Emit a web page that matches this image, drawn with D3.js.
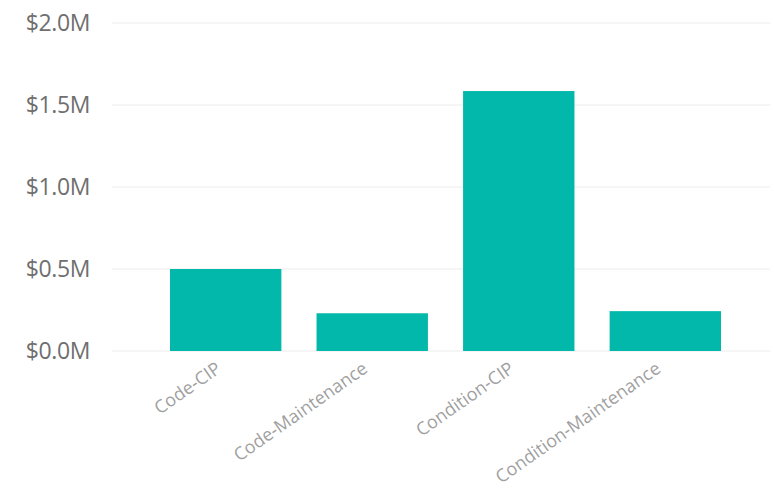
<!DOCTYPE html>
<head>
  <meta charset="utf-8" />
  <script src="https://d3js.org/d3.v7.min.js"></script>
  <style>
    body {
      margin: 0;
      background: #fff;
    }
    .ylab {
      font-family: "Open Sans", sans-serif;
      font-size: 23px;
      letter-spacing: -0.4px;
      fill: #6f6f6f;
    }
    .xlab {
      font-family: "Open Sans", sans-serif;
      font-size: 18px;
      fill: #a0a0a0;
    }
  </style>
</head>

<body>
  <script>
    var width = 774,
      height = 496;

    // donnees
    var categories = ["Code-CIP", "Code-Maintenance", "Condition-CIP", "Condition-Maintenance"];
    var values = [500000, 230000, 1585000, 243000];
    var yTicks = [0, 500000, 1000000, 1500000, 2000000];

    var svg = d3
      .select("body")
      .append("svg")
      .attr("width", width)
      .attr("height", height);

    var x = d3
      .scaleBand()
      .domain(categories)
      .range([170, 721])
      .paddingInner(0.24)
      .paddingOuter(0);

    var y = d3.scaleLinear().domain([0, 2000000]).range([351, 23]);

    // lignes de grille
    svg
      .selectAll("line.grid")
      .data(yTicks)
      .join("line")
      .attr("class", "grid")
      .attr("x1", 112)
      .attr("x2", 770)
      .attr("y1", (d) => y(d))
      .attr("y2", (d) => y(d))
      .attr("stroke", "#ececec")
      .attr("stroke-width", 1);

    // etiquettes axe y
    svg
      .selectAll("text.ylab")
      .data(yTicks)
      .join("text")
      .attr("class", "ylab")
      .attr("x", 90)
      .attr("y", (d) => y(d))
      .attr("dy", "0.35em")
      .attr("text-anchor", "end")
      .text((d) => "$" + (d / 1000000).toFixed(1) + "M");

    // barres
    svg
      .selectAll("rect")
      .data(values)
      .join("rect")
      .attr("x", (d, i) => x(categories[i]))
      .attr("width", x.bandwidth())
      .attr("y", (d) => y(d))
      .attr("height", (d) => y(0) - y(d))
      .attr("fill", "#01b8aa");

    // etiquettes axe x, inclinees
    svg
      .selectAll("text.xlab")
      .data(categories)
      .join("text")
      .attr("class", "xlab")
      .attr("text-anchor", "end")
      .attr("dy", "0.35em")
      .attr("transform", function (d) {
        var cx = x(d) + x.bandwidth() / 2 - 7;
        return "translate(" + cx + ",366) rotate(-35)";
      })
      .text((d) => d);
  </script>
</body>
